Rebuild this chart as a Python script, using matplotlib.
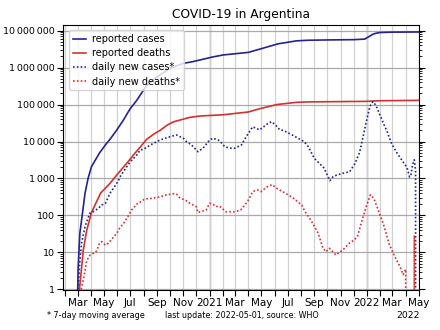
import matplotlib
matplotlib.use("Agg")
import matplotlib.pyplot as plt
import matplotlib.dates as mdates
import matplotlib.ticker as mticker
import numpy as np
import pandas as pd

plt.rcParams['font.family'] = ['DejaVu Sans']

# cumulative reported cases
case_dates = ["2020-03-01", "2020-03-02", "2020-03-06", "2020-03-12", "2020-03-18", "2020-03-25",
              "2020-04-02", "2020-04-21", "2020-05-07", "2020-05-15", "2020-05-30", "2020-06-15",
              "2020-06-30", "2020-07-16", "2020-08-08", "2020-09-01", "2020-10-01", "2020-11-01",
              "2020-11-23", "2020-12-09", "2021-01-09", "2021-02-02", "2021-04-01", "2021-04-29",
              "2021-06-09", "2021-07-22", "2021-08-18", "2021-10-01", "2021-12-01", "2021-12-27",
              "2022-01-05", "2022-01-15", "2022-01-22", "2022-02-01", "2022-03-01", "2022-05-01"]
case_values = [1, 4, 33, 114, 400, 1000,
               2100, 5000, 8900, 11500, 20000, 38000,
               75000, 130000, 330000, 560000, 950000, 1300000,
               1450000, 1600000, 1950000, 2200000, 2580000, 3200000,
               4400000, 5300000, 5500000, 5600000, 5700000, 5900000,
               6800000, 8000000, 8500000, 8900000, 9100000, 9200000]

# cumulative reported deaths
death_dates = ["2020-03-05", "2020-03-08", "2020-03-14", "2020-03-22", "2020-04-02", "2020-04-23",
               "2020-05-15", "2020-05-24", "2020-06-03", "2020-06-23", "2020-07-13", "2020-07-25",
               "2020-08-08", "2020-08-25", "2020-09-08", "2020-09-25", "2020-10-09", "2020-10-24",
               "2020-11-16", "2020-12-10", "2021-02-02", "2021-04-01", "2021-04-29", "2021-06-06",
               "2021-07-22", "2021-08-18", "2021-12-29", "2022-02-01", "2022-05-01"]
death_values = [1, 2.2, 11.6, 40, 120, 400,
                740, 1000, 1380, 2600, 5000, 7300,
                11500, 16000, 20000, 28000, 34000, 38000,
                45000, 49000, 53000, 63000, 78000, 100000,
                115000, 118000, 122000, 127000, 130000]

# daily new cases, 7-day moving average
new_case_dates = ["2020-03-02", "2020-03-06", "2020-03-10", "2020-03-18", "2020-03-29", "2020-04-06",
                  "2020-04-18", "2020-04-25", "2020-05-04", "2020-05-15", "2020-05-23", "2020-06-03",
                  "2020-06-07", "2020-06-23", "2020-07-01", "2020-07-16", "2020-07-24", "2020-08-01",
                  "2020-08-17", "2020-09-08", "2020-10-01", "2020-10-16", "2020-11-01", "2020-11-08",
                  "2020-11-20", "2020-12-05", "2020-12-17", "2021-01-01", "2021-01-09", "2021-01-24",
                  "2021-02-05", "2021-02-17", "2021-03-01", "2021-03-16", "2021-03-27", "2021-04-11",
                  "2021-04-27", "2021-05-15", "2021-05-25", "2021-06-03", "2021-06-13", "2021-06-21",
                  "2021-07-10", "2021-07-25", "2021-08-08", "2021-08-18", "2021-09-01", "2021-09-24",
                  "2021-10-07", "2021-10-14", "2021-10-23", "2021-11-06", "2021-11-22", "2021-12-04",
                  "2021-12-15", "2021-12-24", "2022-01-01", "2022-01-08", "2022-01-15", "2022-01-22",
                  "2022-02-01", "2022-02-10", "2022-02-16", "2022-02-27", "2022-03-10", "2022-03-17",
                  "2022-03-29", "2022-04-04", "2022-04-10", "2022-04-13", "2022-04-17", "2022-04-21",
                  "2022-04-24", "2022-04-26"]
new_case_values = [1, 6, 18, 50, 114, 126,
                   155, 190, 210, 400, 550, 850,
                   1100, 2100, 2850, 4300, 5900, 6200,
                   8100, 11000, 13500, 15000, 12300, 10000,
                   8100, 5300, 6600, 11000, 12300, 10600,
                   7300, 6600, 6600, 8100, 13500, 25000,
                   20600, 30000, 34500, 28000, 20600, 20000,
                   15500, 12300, 10000, 7300, 3500, 1900,
                   870, 1100, 1240, 1380, 1520, 2500,
                   5000, 15000, 40000, 90000, 120000, 95000,
                   50000, 28000, 20000, 9000, 5300, 4000,
                   2500, 2000, 1100, 1200, 2300, 3200,
                   1700, 0]

# daily new deaths, 7-day moving average
new_death_dates = ["2020-03-09", "2020-03-14", "2020-03-22", "2020-03-29", "2020-04-06", "2020-04-14",
                   "2020-04-21", "2020-04-26", "2020-05-04", "2020-05-11", "2020-05-23", "2020-05-31",
                   "2020-06-03", "2020-06-19", "2020-07-01", "2020-07-04", "2020-07-19", "2020-07-24",
                   "2020-08-04", "2020-08-20", "2020-09-08", "2020-09-23", "2020-10-12", "2020-10-16",
                   "2020-10-24", "2020-11-08", "2020-11-16", "2020-12-01", "2020-12-05", "2020-12-24",
                   "2021-01-01", "2021-01-09", "2021-01-16", "2021-01-24", "2021-02-08", "2021-02-28",
                   "2021-03-14", "2021-03-30", "2021-04-11", "2021-04-22", "2021-04-30", "2021-05-15",
                   "2021-05-26", "2021-06-06", "2021-06-26", "2021-07-15", "2021-08-03", "2021-08-10",
                   "2021-08-26", "2021-09-10", "2021-09-21", "2021-09-28", "2021-10-06", "2021-10-14",
                   "2021-10-21", "2021-11-06", "2021-11-21", "2021-12-02", "2021-12-10", "2021-12-21",
                   "2022-01-02", "2022-01-09", "2022-01-17", "2022-01-29", "2022-02-09", "2022-02-21",
                   "2022-03-07", "2022-03-19", "2022-03-26", "2022-04-01", "2022-04-07", "2022-04-18",
                   "2022-04-21", "2022-04-24"]
new_death_values = [1, 1.8, 6, 8.3, 9.4, 11,
                    18, 19.5, 15.8, 17.6, 26, 33,
                    40, 70, 120, 140, 220, 230,
                    280, 290, 320, 360, 390, 380,
                    300, 250, 213, 173, 120, 140,
                    213, 200, 173, 180, 126, 126,
                    140, 235, 440, 490, 440, 600,
                    680, 540, 400, 290, 190, 130,
                    68, 33, 13, 10.4, 12.9, 10.4,
                    8.5, 11.6, 17.6, 21.5, 26.5, 75,
                    213, 360, 290, 126, 55, 17.6,
                    7.6, 4.1, 2.5, 3.5, 0, 0,
                    29, 0]

y_ticks = [1, 10, 100, 1000, 10000, 100000, 1000000, 10000000]

BLUE = "#24248c"
RED = "#d03232"

fig = plt.figure(figsize=(4.4, 3.3), dpi=100)
ax = fig.add_axes([0.1443, 0.1212, 0.809, 0.803])

ax.plot(pd.to_datetime(case_dates), case_values, color=BLUE, lw=1.2, label="reported cases")
ax.plot(pd.to_datetime(death_dates), death_values, color=RED, lw=1.2, label="reported deaths")
ax.plot(pd.to_datetime(new_case_dates), new_case_values, color=BLUE, lw=1.2,
        ls=(0, (1, 1.3)), label="daily new cases*")
ax.plot(pd.to_datetime(new_death_dates), new_death_values, color=RED, lw=1.2,
        ls=(0, (1, 1.3)), label="daily new deaths*")

ax.set_yscale("log")
ax.set_ylim(0.96, 1.42e7)
ax.set_xlim(pd.Timestamp("2020-01-28"), pd.Timestamp("2022-05-03"))

ax.yaxis.set_major_locator(mticker.FixedLocator(y_ticks))
ax.yaxis.set_major_formatter(mticker.FuncFormatter(
    lambda v, p: f"{int(round(v)):,}".replace(",", "\u2009")))
ax.yaxis.set_minor_locator(mticker.LogLocator(base=10, subs=np.arange(2, 10)))
ax.yaxis.set_minor_formatter(mticker.NullFormatter())

ax.xaxis.set_major_locator(mdates.MonthLocator(bymonth=[1, 3, 5, 7, 9, 11]))
ax.xaxis.set_minor_locator(mdates.MonthLocator())
ax.xaxis.set_major_formatter(mticker.FuncFormatter(
    lambda v, p: (mdates.num2date(v).strftime("%Y") if mdates.num2date(v).month == 1
                  else mdates.num2date(v).strftime("%b"))))

ax.tick_params(axis="x", which="major", labelsize=7.5, length=4, width=0.8, pad=2)
ax.tick_params(axis="x", which="minor", length=4, width=0.8)
ax.tick_params(axis="y", which="major", labelsize=6.8, length=4, width=0.8, pad=2,
               right=True)
ax.tick_params(axis="y", which="minor", length=2, width=0.6, right=True)

# grid: months on x, decades on y, years emphasised
ax.grid(True, axis="x", which="both", color="#d2d2d2", lw=0.9)
ax.grid(True, axis="y", which="major", color="#aaaaaa", lw=0.9)
for yr in ["2021-01-01", "2022-01-01"]:
    ax.axvline(pd.Timestamp(yr), color="#a0a0a0", lw=1.0, zorder=0.5)
ax.set_axisbelow(True)
for s in ax.spines.values():
    s.set_linewidth(0.8)

leg = ax.legend(loc="upper left", fontsize=7, handlelength=1.4, handletextpad=0.6,
                labelspacing=0.42, borderpad=0.4, framealpha=0.8, edgecolor="#cccccc",
                borderaxespad=0.55)

ax.set_title("COVID-19 in Argentina", fontsize=8.8, pad=5)

fig.text(0.107, 0.045, "* 7-day moving average", fontsize=5.8, va="center")
fig.text(0.376, 0.045, "last update: 2022-05-01, source: WHO", fontsize=5.8, va="center")
fig.text(0.955, 0.045, "2022", fontsize=6.6, va="center", ha="right")

fig.savefig("out.png", dpi=100)
